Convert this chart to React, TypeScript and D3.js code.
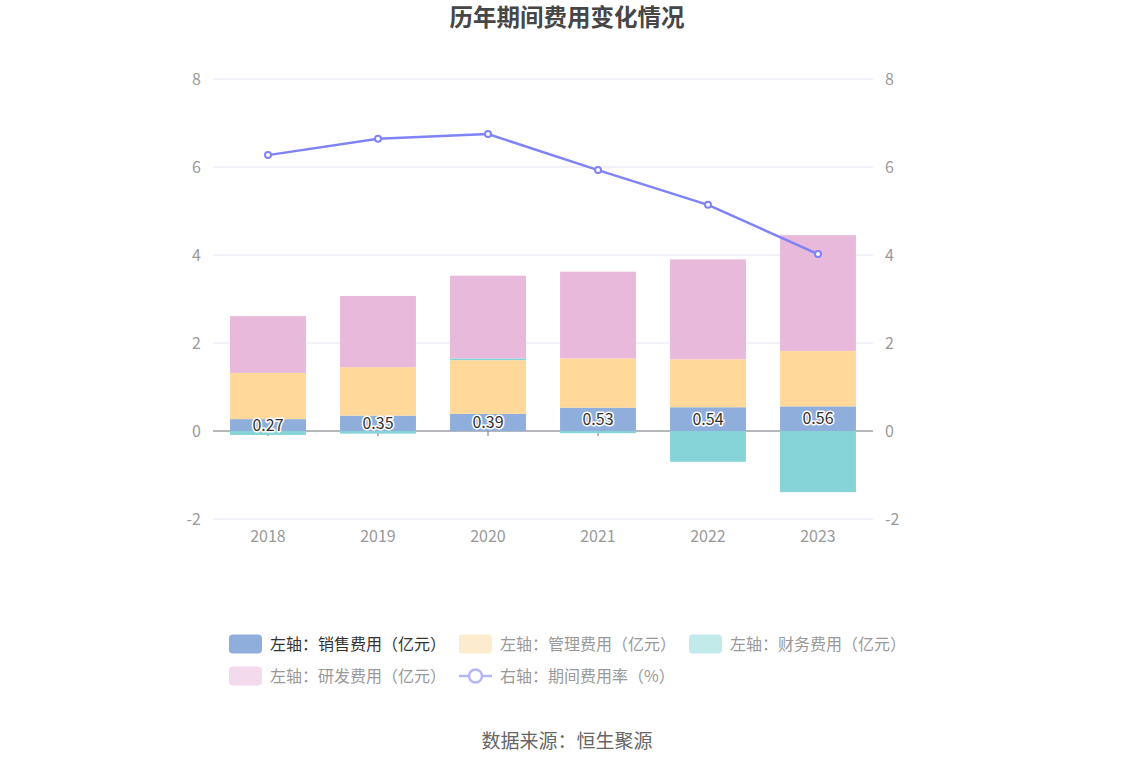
import React from 'react';
import * as d3 from 'd3';

const years = ['2018', '2019', '2020', '2021', '2022', '2023'];
const sales = [0.27, 0.35, 0.39, 0.53, 0.54, 0.56];
const admin = [1.05, 1.1, 1.22, 1.12, 1.09, 1.26];
const finance = [-0.09, -0.06, 0.04, -0.05, -0.7, -1.39];
const rnd = [1.29, 1.62, 1.88, 1.97, 2.27, 2.63];
const rate = [6.27, 6.64, 6.75, 5.93, 5.14, 4.02];
const yTicks = [-2, 0, 2, 4, 6, 8];

const seriesKeys = ['sales', 'admin', 'finance', 'rnd'];
const colors: Record<string, string> = {
  sales: '#8faedb',
  admin: '#ffd89a',
  finance: '#86d4d8',
  rnd: '#e8b9da',
};

const legendItems = [
  { label: '左轴：销售费用（亿元）', color: '#8faedb', text: '#333', type: 'rect' },
  { label: '左轴：管理费用（亿元）', color: '#fdebd0', text: '#999', type: 'rect' },
  { label: '左轴：财务费用（亿元）', color: '#c3eaeb', text: '#999', type: 'rect' },
  { label: '左轴：研发费用（亿元）', color: '#f3dbeb', text: '#999', type: 'rect' },
  { label: '右轴：期间费用率（%）', color: '#b4b6f8', text: '#999', type: 'line' },
];

const font = '"Noto Sans CJK SC", "Noto Sans", sans-serif';

export default function App() {
  const W = 1134;
  const H = 766;
  const left = 213;
  const right = 873;
  const top = 79;
  const bottom = 519;

  const x = d3.scaleBand<string>().domain(years).range([left, right]);
  const y = d3.scaleLinear().domain([-2, 8]).range([bottom, top]);
  const yR = d3.scaleLinear().domain([-2, 8]).range([bottom, top]);
  const barW = x.bandwidth() * 0.69;

  const table = years.map((yr, i) => ({
    year: yr,
    sales: sales[i],
    admin: admin[i],
    finance: finance[i],
    rnd: rnd[i],
  }));
  const stacked = d3
    .stack<any>()
    .keys(seriesKeys)
    .offset(d3.stackOffsetDiverging)(table);

  const cx = (yr: string) => (x(yr) as number) + x.bandwidth() / 2;

  const line = d3
    .line<number>()
    .x((_, i) => cx(years[i]))
    .y((d) => yR(d));

  const legendPos = [
    [229, 644],
    [459, 644],
    [689, 644],
    [229, 676],
    [459, 676],
  ];

  return (
    <svg
      width={W}
      height={H}
      style={{ position: 'absolute', left: 0, top: 0, fontFamily: font }}
    >
      <rect width={W} height={H} fill="#fff" />
      <text x={567} y={26} textAnchor="middle" fontSize={23.5} fontWeight="bold" fill="#464646">
        历年期间费用变化情况
      </text>

      {yTicks.map((t) => (
        <g key={t}>
          {t !== 0 && (
            <line x1={left} x2={right} y1={y(t)} y2={y(t)} stroke="#e3e5f2" strokeWidth={1} />
          )}
          <text x={201} y={y(t)} dy="0.35em" textAnchor="end" fontSize={16} fill="#9a9a9a">
            {t}
          </text>
          <text x={885} y={yR(t)} dy="0.35em" textAnchor="start" fontSize={16} fill="#9a9a9a">
            {t}
          </text>
        </g>
      ))}

      <line x1={left} x2={right} y1={y(0)} y2={y(0)} stroke="#6e7079" strokeWidth={1} />
      {years.map((yr) => (
        <g key={yr}>
          <line x1={cx(yr)} x2={cx(yr)} y1={y(0)} y2={y(0) + 5} stroke="#6e7079" />
          <text x={cx(yr)} y={536} dy="0.35em" textAnchor="middle" fontSize={16} fill="#9a9a9a">
            {yr}
          </text>
        </g>
      ))}

      {stacked.map((s) => (
        <g key={s.key} fill={colors[s.key]}>
          {s.map((d, i) => (
            <rect
              key={i}
              x={cx(years[i]) - barW / 2}
              width={barW}
              y={y(Math.max(d[0], d[1]))}
              height={Math.abs(y(d[0]) - y(d[1]))}
            />
          ))}
        </g>
      ))}

      {sales.map((v, i) => (
        <text
          key={i}
          x={cx(years[i])}
          y={y(v / 2)}
          dy="0.35em"
          textAnchor="middle"
          fontSize={16}
          fill="#333"
          stroke="#fff"
          strokeWidth={3}
          paintOrder="stroke"
          strokeLinejoin="round"
        >
          {v.toFixed(2)}
        </text>
      ))}

      <path d={line(rate) || ''} fill="none" stroke="#7f83f6" strokeWidth={2.5} />
      {rate.map((v, i) => (
        <circle
          key={i}
          cx={cx(years[i])}
          cy={yR(v)}
          r={3}
          fill="#fff"
          stroke="#7f83f6"
          strokeWidth={2}
        />
      ))}

      {legendItems.map((it, i) => {
        const [lx, ly] = legendPos[i];
        return (
          <g key={it.label}>
            {it.type === 'rect' ? (
              <rect x={lx} y={ly - 9.5} width={33} height={19} rx={4} fill={it.color} />
            ) : (
              <g>
                <line x1={lx} x2={lx + 33} y1={ly} y2={ly} stroke={it.color} strokeWidth={2.5} />
                <circle cx={lx + 16.5} cy={ly} r={6.5} fill="#fff" stroke={it.color} strokeWidth={2.5} />
              </g>
            )}
            <text x={lx + 41} y={ly} dy="0.35em" fontSize={16} fill={it.text}>
              {it.label}
            </text>
          </g>
        );
      })}

      <text x={567} y={741} dy="0.35em" textAnchor="middle" fontSize={19} fill="#666">
        数据来源：恒生聚源
      </text>
    </svg>
  );
}
